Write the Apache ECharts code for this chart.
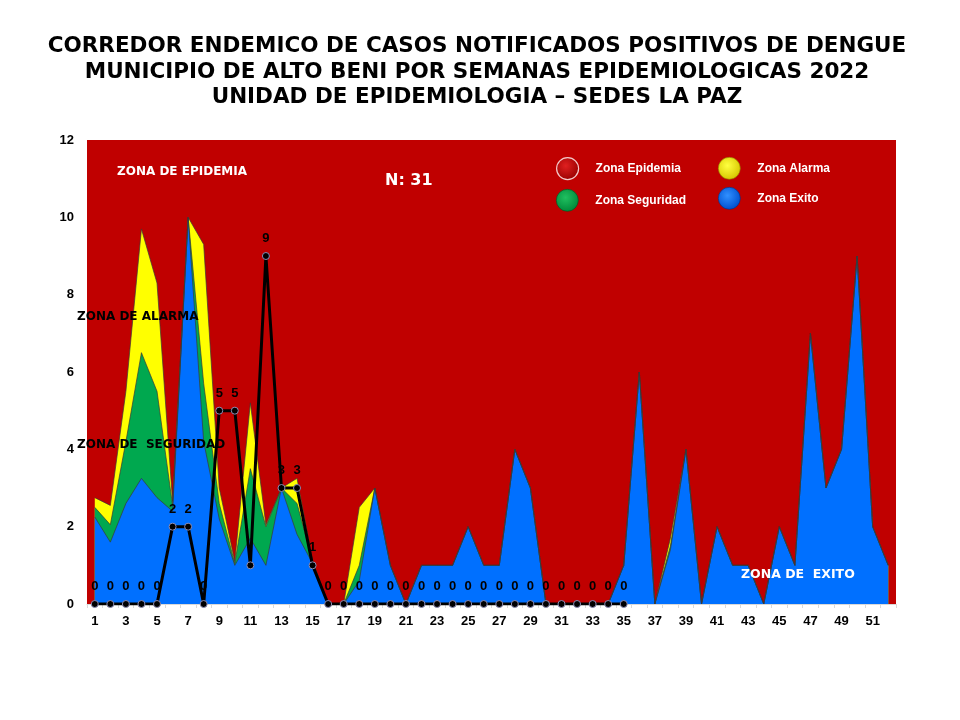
<!DOCTYPE html>
<html>
<head>
<meta charset="utf-8">
<title>Corredor endemico dengue Alto Beni 2022</title>
<script src="https://cdn.jsdelivr.net/npm/echarts@6.0.0/dist/echarts.min.js"></script>
<style>
  html, body { margin: 0; padding: 0; background: #ffffff; }
  #chart { width: 960px; height: 720px; }
</style>
</head>
<body>
<div id="chart"></div>
<script>
/* Corredor endemico: zonas (areas superpuestas) + casos 2022 */
var SEMANAS = [];
for (var s = 1; s <= 52; s++) SEMANAS.push(String(s));

// Zona de exito (azul)
var EXITO = [2.25, 1.6, 2.6, 3.25, 2.75, 2.4, 10, 4.2, 2.2, 1.0, 1.7, 1.0, 3.0, 1.8, 1.05, 0, 0, 0.6, 3, 1,
  0, 1, 1, 1, 2, 1, 1, 4, 3, 0, 0, 0, 0, 0, 1, 6, 0, 1.4, 4, 0,
  2, 1, 1, 0, 2, 1, 7, 3, 4, 9, 2, 1];

// Zona de seguridad (verde), limite superior
var SEGURIDAD = [2.5, 2.05, 4.2, 6.5, 5.5, 2.55, 10, 5.7, 2.6, 1.05, 3.5, 2.0, 3.0, 2.6, 1.1, 0, 0, 1.0, 3, 1,
  0, 1, 1, 1, 2, 1, 1, 4, 3, 0, 0, 0, 0, 0, 1, 6, 0, 1.5, 4, 0,
  2, 1, 1, 0, 2, 1, 7, 3, 4, 9, 2, 1];

// Zona de alarma (amarillo), limite superior
var ALARMA = [2.75, 2.55, 5.5, 9.7, 8.3, 2.65, 10, 9.3, 3.0, 1.1, 5.2, 2.05, 3.0, 3.25, 1.1, 0, 0, 2.5, 3, 1,
  0, 1, 1, 1, 2, 1, 1, 4, 3, 0, 0, 0, 0, 0, 1, 6, 0, 1.7, 4, 0,
  2, 1, 1, 0, 2, 1, 7, 3, 4, 9, 2, 1];

// Casos notificados positivos 2022 (semanas 1-35)
var CASOS = [0, 0, 0, 0, 0, 2, 2, 0, 5, 5, 1, 9, 3, 3, 1, 0, 0, 0, 0, 0,
  0, 0, 0, 0, 0, 0, 0, 0, 0, 0, 0, 0, 0, 0, 0];
var SIN_ETIQUETA = [10];   // indice de semana cuyo valor no se rotula

var TITULO = [
  "CORREDOR ENDEMICO DE CASOS NOTIFICADOS POSITIVOS DE DENGUE",
  "MUNICIPIO DE ALTO BENI POR SEMANAS EPIDEMIOLOGICAS 2022",
  "UNIDAD DE EPIDEMIOLOGIA \u2013 SEDES LA PAZ"
];

var FONT = '"Liberation Sans", Arial, sans-serif';
var WIDE = '"DejaVu Sans", Verdana, sans-serif';
var RED = "#c00000", YELLOW = "#ffff00", GREEN = "#00a84f", BLUE = "#0070ff";

function gloss(light, dark) {
  return { type: "radial", x: 0.42, y: 0.38, r: 0.62,
    colorStops: [{ offset: 0, color: light }, { offset: 1, color: dark }] };
}

function legendAt(name, left, top, icon) {
  return {
    data: [{ name: name, itemStyle: icon }],
    left: left, top: top, padding: 0, orient: "horizontal", selectedMode: false,
    icon: "circle", itemWidth: 22, itemHeight: 22,
    textStyle: { color: "#ffffff", fontFamily: FONT, fontWeight: "bold", fontSize: 12,
      padding: [0, 0, 0, 12] }
  };
}

function text(str, x, y, color, font, align) {
  return {
    type: "text", x: x, y: y, z: 100,
    style: { text: str, fill: color, font: font, align: align || "left", verticalAlign: "middle" }
  };
}

function areaSeries(name, data, color) {
  return {
    name: name, type: "line", data: data, symbol: "none", silent: true,
    lineStyle: { color: "#3a3a3a", width: 0.7 },
    itemStyle: { color: color },
    areaStyle: { color: color, opacity: 1 }
  };
}

var chart = echarts.init(document.getElementById("chart"), null, { renderer: "canvas" });

var casosData = CASOS.map(function (v, i) {
  if (SIN_ETIQUETA.indexOf(i) >= 0) return { value: v, label: { show: false } };
  return v;
});

chart.setOption({
  backgroundColor: "#ffffff",
  animation: false,
  grid: { left: 87, right: 64, top: 140, bottom: 116, show: true,
    backgroundColor: RED, borderWidth: 0 },
  legend: [
    legendAt("Zona Epidemia", 556, 157,
      { color: gloss("#e02020", "#9a0000"), borderColor: "#f4c8c8", borderWidth: 1.2 }),
    legendAt("Zona Alarma", 718, 157,
      { color: gloss("#ffff40", "#d8c800"), borderColor: "#8a7a00", borderWidth: 0.6 }),
    legendAt("Zona Seguridad", 556, 189,
      { color: gloss("#20c060", "#008a3a"), borderColor: "#005020", borderWidth: 0.6 }),
    legendAt("Zona Exito", 718, 187,
      { color: gloss("#3090ff", "#0050d0"), borderColor: "#003080", borderWidth: 0.6 })
  ],
  xAxis: {
    type: "category", data: SEMANAS, boundaryGap: true,
    axisLine: { lineStyle: { color: "#d9d9d9", width: 1 } },
    axisTick: { show: true, interval: 0, length: 4, lineStyle: { color: "#d9d9d9" } },
    axisLabel: { interval: 1, color: "#000000", fontFamily: FONT, fontWeight: "bold",
      fontSize: 13, margin: 11 },
    splitLine: { show: false }
  },
  yAxis: {
    type: "value", min: 0, max: 12, interval: 2,
    axisLine: { show: false }, axisTick: { show: false }, splitLine: { show: false },
    axisLabel: { color: "#000000", fontFamily: FONT, fontWeight: "bold", fontSize: 13, margin: 13 }
  },
  series: [
    { name: "Zona Epidemia", type: "line", data: [], itemStyle: { color: RED } },
    areaSeries("Zona Alarma", ALARMA, YELLOW),
    areaSeries("Zona Seguridad", SEGURIDAD, GREEN),
    areaSeries("Zona Exito", EXITO, BLUE),
    {
      name: "Casos 2022", type: "line", data: casosData, z: 5,
      symbol: "circle", symbolSize: 7, showAllSymbol: true,
      lineStyle: { color: "#000000", width: 3 },
      itemStyle: { color: "#000000", borderColor: "#8c8cb4", borderWidth: 1 },
      label: { show: true, position: "top", distance: 7, color: "#000000",
        fontFamily: FONT, fontWeight: "bold", fontSize: 13 }
    }
  ],
  graphic: [
    text(TITULO[0], 477, 46, "#000000", "bold 21.5px " + WIDE, "center"),
    text(TITULO[1], 477, 72, "#000000", "bold 21.5px " + WIDE, "center"),
    text(TITULO[2], 477, 97, "#000000", "bold 21.5px " + WIDE, "center"),
    text("ZONA DE EPIDEMIA", 117, 172, "#ffffff", "bold 12px " + WIDE),
    text("N: 31", 385, 181, "#ffffff", "bold 16px " + WIDE),
    text("ZONA DE ALARMA", 77, 317, "#000000", "bold 12px " + WIDE),
    text("ZONA DE  SEGURIDAD", 77, 445, "#000000", "bold 12px " + WIDE),
    text("ZONA DE  EXITO", 741, 575, "#ffffff", "bold 12.5px " + WIDE)
  ]
});
</script>
</body>
</html>
